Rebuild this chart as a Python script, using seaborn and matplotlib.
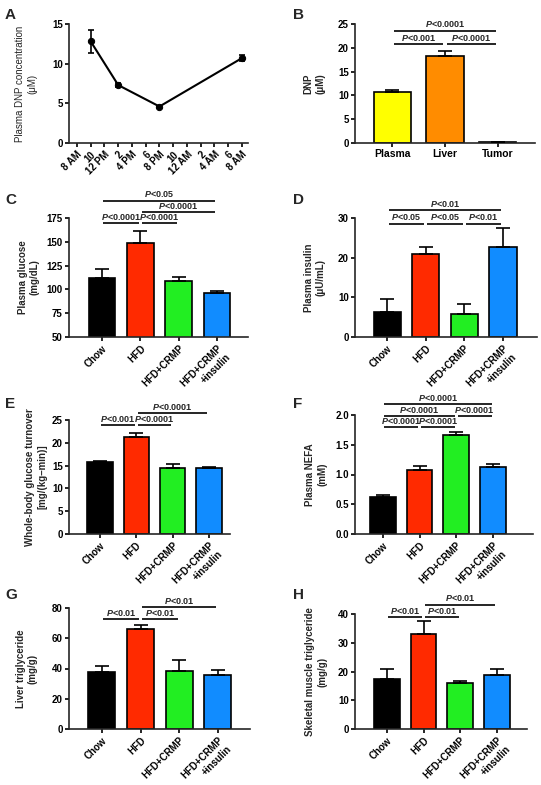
import numpy as np
import pandas as pd
import matplotlib
matplotlib.use("Agg")
import matplotlib.pyplot as plt
import seaborn as sns

# ---------------- data ----------------
time_labels = ["8 AM", "10", "12 PM", "2", "4 PM", "6", "8 PM", "10", "12 AM", "2", "4 AM", "6", "8 AM"]
dnp_time_idx = [1, 3, 6, 12]
dnp_conc = [12.8, 7.3, 4.6, 10.7]
dnp_conc_err = [1.45, 0.25, 0.12, 0.4]

tissues = ["Plasma", "Liver", "Tumor"]
tissue_dnp = [10.8, 18.2, 0.2]
tissue_dnp_err = [0.4, 1.2, 0.05]
tissue_colors = ["#FFFF00", "#FF8C00", "#FF8C00"]

groups = ["Chow", "HFD", "HFD+CRMP", "HFD+CRMP\n+insulin"]
group_colors = ["#000000", "#FF2A00", "#22EE22", "#118CFF"]

glucose = [112.5, 148.5, 108.5, 96.5]
glucose_err = [8.5, 13.0, 5.0, 2.0]
insulin = [6.3, 21.0, 5.7, 22.8]
insulin_err = [3.2, 1.7, 2.6, 4.6]
turnover = [15.7, 21.3, 14.5, 14.4]
turnover_err = [0.4, 0.9, 0.8, 0.4]
nefa = [0.62, 1.08, 1.66, 1.13]
nefa_err = [0.04, 0.06, 0.05, 0.04]
liver_tg = [37.5, 66.0, 38.5, 36.0]
liver_tg_err = [4.0, 2.5, 7.0, 2.8]
muscle_tg = [17.3, 33.2, 16.1, 18.9]
muscle_tg_err = [3.7, 4.3, 0.6, 1.8]

sig_B = [(0, 2, 23.6, "P<0.0001"), (0, 1, 20.8, "P<0.001"), (1, 2, 20.8, "P<0.0001")]
sig_C = [(0, 3, 193.3, "P<0.05"), (1, 3, 181.3, "P<0.0001"), (0, 1, 169.7, "P<0.0001"), (1, 2, 169.7, "P<0.0001")]
sig_D = [(0, 3, 31.9, "P<0.01"), (0, 1, 28.6, "P<0.05"), (1, 2, 28.6, "P<0.05"), (2, 3, 28.6, "P<0.01")]
sig_E = [(1, 3, 26.5, "P<0.0001"), (0, 1, 23.9, "P<0.001"), (1, 2, 23.9, "P<0.0001")]
sig_F = [(0, 3, 2.185, "P<0.0001"), (0, 2, 1.98, "P<0.0001"), (2, 3, 1.98, "P<0.0001"),
         (0, 1, 1.79, "P<0.0001"), (1, 2, 1.79, "P<0.0001")]
sig_G = [(1, 3, 80.4, "P<0.01"), (0, 1, 72.7, "P<0.01"), (1, 2, 72.7, "P<0.01")]
sig_H = [(1, 3, 43.3, "P<0.01"), (0, 1, 38.8, "P<0.01"), (1, 2, 38.8, "P<0.01")]

# ---------------- style ----------------
sns.set_style("ticks")
plt.rcParams["font.family"] = ["Liberation Sans", "DejaVu Sans"]
plt.rcParams["mathtext.fontset"] = "custom"
plt.rcParams["mathtext.it"] = "Liberation Sans:italic:bold"
plt.rcParams["mathtext.rm"] = "Liberation Sans:bold"
plt.rcParams["axes.linewidth"] = 1.2
plt.rcParams["xtick.major.width"] = 1.2
plt.rcParams["ytick.major.width"] = 1.2
plt.rcParams["xtick.major.size"] = 3
plt.rcParams["ytick.major.size"] = 3
plt.rcParams["xtick.major.pad"] = 1.5
plt.rcParams["ytick.major.pad"] = 1.5

W, H = 541, 785
fig = plt.figure(figsize=(W / 100, H / 100), dpi=100)


def add_ax(l, t, r, b):
    return fig.add_axes([l / W, 1 - b / H, (r - l) / W, (b - t) / H])


def style_ax(ax, ylim, yticks, ylabel, label_right_px, ax_left_px, ax_width_px, fmt=None, lab_bold=True):
    ax.set_ylim(*ylim)
    ax.set_yticks(yticks)
    if fmt:
        ax.set_yticklabels([fmt.format(v) for v in yticks])
    sns.despine(ax=ax)
    ax.set_ylabel(ylabel, fontsize=7, fontweight="bold" if lab_bold else "normal", linespacing=1.3)
    ax.yaxis.set_label_coords((label_right_px - ax_left_px) / ax_width_px, 0.5)
    for lab in ax.get_yticklabels():
        lab.set_fontsize(7)
        lab.set_fontweight("bold")
    ax.tick_params(axis="both", colors="black", direction="out")


def bars(ax, cats, vals, errs, colors, xlim, rotate=True):
    sns.barplot(x=cats, y=vals, hue=cats, palette=colors, order=cats, hue_order=cats,
                width=0.7, edgecolor="black", linewidth=1.2, errorbar=None,
                legend=False, ax=ax, saturation=1)
    pos = np.arange(len(cats))
    ax.errorbar(pos, vals, yerr=[np.zeros(len(vals)), errs], fmt="none", ecolor="black",
                elinewidth=1.2, capsize=5, capthick=1.2, zorder=5)
    ax.set_xlim(*xlim)
    ax.set_xlabel("")
    ax.set_xticks(pos)
    if rotate:
        ax.set_xticklabels(cats, rotation=45, ha="right", rotation_mode="anchor",
                           fontsize=7, fontweight="bold")
    else:
        ax.set_xticklabels(cats, fontsize=7.5, fontweight="bold")


def sig(ax, items, ylim):
    span = ylim[1] - ylim[0]
    for i, j, y, txt in items:
        ax.plot([i + 0.04, j - 0.04], [y, y], color="black", lw=1.2, clip_on=False,
                solid_capstyle="butt")
        ax.text((i + j) / 2, y + span * 0.012, "$P$" + txt[1:], ha="center", va="bottom",
                fontsize=6.5, fontweight="bold", clip_on=False)


# ---------------- Panel A ----------------
axA = add_ax(69, 24, 248, 143)
dfA = pd.DataFrame({"t": dnp_time_idx, "c": dnp_conc})
sns.lineplot(data=dfA, x="t", y="c", color="black", lw=1.5, marker="o", markersize=4.5,
             markeredgecolor="black", ax=axA)
axA.errorbar(dnp_time_idx, dnp_conc, yerr=dnp_conc_err, fmt="none", ecolor="black",
             elinewidth=1.2, capsize=2.5, capthick=1.2)
axA.set_xlim(-0.58, 12.44)
axA.set_xticks(range(len(time_labels)))
axA.set_xticklabels(time_labels, rotation=45, ha="right", rotation_mode="anchor",
                    fontsize=7, fontweight="bold")
axA.set_xlabel("")
style_ax(axA, (0, 15), [0, 5, 10, 15], "Plasma DNP concentration\n(μM)", 37, 69, 179, lab_bold=False)

# ---------------- Panel B ----------------
axB = add_ax(355, 24, 535, 143)
bars(axB, tissues, tissue_dnp, tissue_dnp_err, tissue_colors, (-0.7, 2.7), rotate=False)
style_ax(axB, (0, 25), [0, 5, 10, 15, 20, 25], "DNP\n(μM)", 326, 355, 180)
sig(axB, sig_B, (0, 25))

# ---------------- Panel C ----------------
axC = add_ax(69, 218, 248, 337)
bars(axC, groups, glucose, glucose_err, group_colors, (-0.86, 3.81))
style_ax(axC, (50, 175), [50, 75, 100, 125, 150, 175], "Plasma glucose\n(mg/dL)", 40, 69, 179)
sig(axC, sig_C, (50, 175))

# ---------------- Panel D ----------------
axD = add_ax(355, 218, 537, 337)
bars(axD, groups, insulin, insulin_err, group_colors, (-0.83, 3.88))
style_ax(axD, (0, 30), [0, 10, 20, 30], "Plasma insulin\n(μU/mL)", 326, 355, 182)
sig(axD, sig_D, (0, 30))

# ---------------- Panel E ----------------
axE = add_ax(69, 420, 230, 534)
bars(axE, groups, turnover, turnover_err, group_colors, (-0.85, 3.58))
style_ax(axE, (0, 25), [0, 5, 10, 15, 20, 25], "Whole-body glucose turnover\n[mg/(kg–min)]", 47, 69, 161)
sig(axE, sig_E, (0, 25))

# ---------------- Panel F ----------------
axF = add_ax(355, 415, 533, 534)
bars(axF, groups, nefa, nefa_err, group_colors, (-0.76, 4.09))
style_ax(axF, (0, 2.0), [0.0, 0.5, 1.0, 1.5, 2.0], "Plasma NEFA\n(mM)", 327, 355, 178, fmt="{:.1f}")
sig(axF, sig_F, (0, 2.0))

# ---------------- Panel G ----------------
axG = add_ax(69, 608, 250, 729)
bars(axG, groups, liver_tg, liver_tg_err, group_colors, (-0.85, 3.83))
style_ax(axG, (0, 80), [0, 20, 40, 60, 80], "Liver triglyceride\n(mg/g)", 38, 69, 181)
sig(axG, sig_G, (0, 80))

# ---------------- Panel H ----------------
axH = add_ax(355, 614, 527, 729)
bars(axH, groups, muscle_tg, muscle_tg_err, group_colors, (-0.87, 3.82))
style_ax(axH, (0, 40), [0, 10, 20, 30, 40], "Skeletal muscle triglyceride\n(mg/g)", 327, 355, 172)
sig(axH, sig_H, (0, 40))

# ---------------- panel letters ----------------
letters = [("A", 5, 8), ("B", 293, 8), ("C", 5, 193), ("D", 293, 193),
           ("E", 5, 397), ("F", 293, 397), ("G", 5, 588), ("H", 293, 588)]
for let, px, py in letters:
    fig.text(px / W, 1 - py / H, let, fontsize=11, fontweight="bold", va="top", ha="left")

fig.savefig("out.png", dpi=100, facecolor="white")
